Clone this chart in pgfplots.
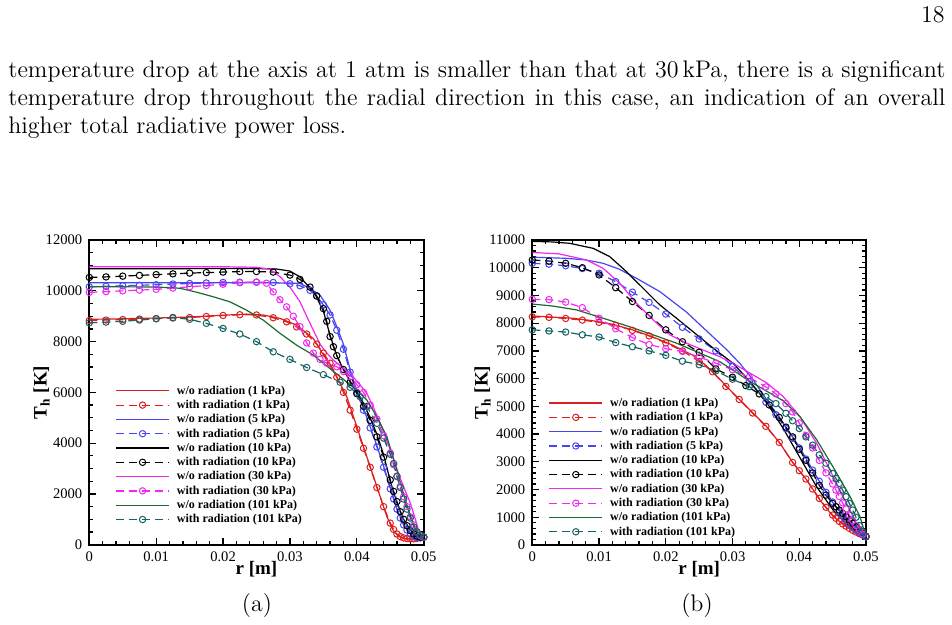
\documentclass[border=0pt]{standalone}
\usepackage{fontspec}
\usepackage{pgfplots}
\pgfplotsset{compat=1.18}

\newfontfamily\plotfont{Liberation Serif}
\newcommand{\tickfont}{\plotfont\fontsize{7.3}{8}\selectfont}
\newcommand{\legfont}{\plotfont\bfseries\fontsize{6}{7}\selectfont}
\newcommand{\labfont}{\plotfont\bfseries\fontsize{9.5}{11}\selectfont}

\definecolor{cRed}{RGB}{220,30,30}
\definecolor{cBlue}{RGB}{70,70,240}
\definecolor{cBlack}{RGB}{0,0,0}
\definecolor{cMag}{RGB}{240,40,240}
\definecolor{cGreen}{RGB}{30,105,45}
\definecolor{cTeal}{RGB}{20,100,100}

\pgfplotsset{
  wo/.style={line width=0.6pt, mark=none, solid},
  wr/.style={line width=0.6pt, dash pattern=on 4pt off 2.5pt, mark=o,
             mark size=1.6pt, mark options={solid, line width=0.5pt}},
  tecplot/.style={
    scale only axis, clip=false,
    scaled ticks=false,
    xmin=0, xmax=0.05, ymin=0,
    xtick={0,0.01,0.02,0.03,0.04,0.05},
    xticklabels={0,0.01,0.02,0.03,0.04,0.05},
    minor x tick num=4,
    tick align=inside,
    major tick length=3.3pt, minor tick length=2pt,
    axis line style={line width=0.9pt},
    every tick/.style={black, line width=0.6pt},
    tick label style={font=\tickfont},
    xlabel={r [m]}, ylabel={T\textsubscript{h} [K]},
    label style={font=\labfont},
    xlabel style={at={(axis description cs:0.5,0)}, anchor=base, yshift=-14.7pt},
    legend cell align=left,
    legend image code/.code={\draw[mark repeat=2, mark phase=2, #1]
      plot coordinates {(0pt,0pt) (13.25pt,0pt) (26.5pt,0pt)};},
    legend style={draw=none, fill=none, anchor=north west, font=\legfont,
      inner sep=0pt, row sep=0pt,
      nodes={inner sep=0.6pt, text height=4.65pt, text depth=1.3pt},
      /tikz/every odd column/.append style={column sep=3pt}},
  },
}

\begin{document}
\begin{tikzpicture}
\path[use as bounding box] (0,0) rectangle (476pt,312.5pt);

% page text
\node[anchor=base east, inner sep=0pt, font=\fontsize{12}{14.5}\selectfont] at (472.5pt,301.1pt) {18};
\node[anchor=base west, inner sep=0pt, font=\fontsize{12}{14.5}\selectfont] at (4pt,273.75pt)
  {\makebox[468.5pt][s]{temperature drop at the axis at 1 atm is smaller than that at 30\,kPa, there is a significant}};
\node[anchor=base west, inner sep=0pt, font=\fontsize{12}{14.5}\selectfont] at (4pt,259.75pt)
  {\makebox[468.5pt][s]{temperature drop throughout the radial direction in this case, an indication of an overall}};
\node[anchor=base west, inner sep=0pt, font=\fontsize{12}{14.5}\selectfont] at (4pt,245.75pt)
  {higher total radiative power loss.};
\node[anchor=base, inner sep=0pt, font=\fontsize{12}{14.5}\selectfont] at (128.5pt,6.5pt) {(a)};
\node[anchor=base, inner sep=0pt, font=\fontsize{12}{14.5}\selectfont] at (348.5pt,6.5pt) {(b)};

% ---------------- (a) ----------------
\begin{axis}[tecplot,
  at={(44.65pt,40.15pt)}, anchor=south west,
  width=167.2pt, height=152.3pt,
  ymax=12000,
  ytick={0,2000,4000,6000,8000,10000,12000},
  yticklabels={0,2000,4000,6000,8000,10000,12000},
  minor y tick num=3,
  ylabel style={at={(axis description cs:-0.1175,0.5)}, anchor=south, inner sep=0pt},
  legend style={at={(0.077,0.53)}},
]
\addplot[wo, cRed] coordinates {
(0,8880) (0.005,8900) (0.01,8930) (0.015,8970) (0.02,9040) (0.0235,9085)
(0.026,9050) (0.0285,8915) (0.031,8650) (0.0335,8120) (0.0355,7270) (0.037,6616)
(0.0385,5828) (0.0395,5040) (0.0405,4253) (0.0415,3465) (0.0425,2678) (0.0435,1890)
(0.0445,1103) (0.0454,580) (0.0462,330) (0.047,250) (0.048,220) (0.049,240) (0.05,300)};
\addlegendentry{w/o radiation (1 kPa)}
\addplot[wr, cRed] coordinates {
(0,8830) (0.0025,8850) (0.005,8870) (0.0075,8890) (0.01,8910) (0.0125,8930)
(0.015,8950) (0.0175,8990) (0.02,9030) (0.0225,9060) (0.025,9050) (0.0275,8940)
(0.0295,8780) (0.031,8580) (0.0325,8300) (0.034,7900) (0.035,7550) (0.036,7150)
(0.037,6600) (0.038,6000) (0.039,5300) (0.040,4550) (0.041,3800) (0.042,3050)
(0.043,2250) (0.044,1500) (0.045,850) (0.0455,600) (0.046,420) (0.0465,320)
(0.047,270) (0.0475,240) (0.048,230) (0.0485,230) (0.049,250) (0.0495,270) (0.05,300)};
\addlegendentry{with radiation (1 kPa)}
\addplot[wo, cBlue] coordinates {
(0,10320) (0.01,10320) (0.02,10320) (0.025,10320) (0.03,10310) (0.0315,10290)
(0.033,10100) (0.0345,9830) (0.036,9240) (0.037,8590) (0.038,7900) (0.039,6900)
(0.040,6050) (0.041,5350) (0.042,4650) (0.043,3900) (0.044,3100) (0.045,2250)
(0.046,1400) (0.047,800) (0.048,450) (0.049,300) (0.0495,263) (0.05,300)};
\addlegendentry{w/o radiation (5 kPa)}
\addplot[wr, cBlue] coordinates {
(0,10160) (0.0025,10180) (0.005,10200) (0.0075,10220) (0.01,10240) (0.0125,10270)
(0.015,10290) (0.0175,10310) (0.02,10330) (0.0225,10340) (0.025,10340) (0.0275,10330)
(0.03,10280) (0.0315,10200) (0.033,10020) (0.034,9800) (0.035,9450) (0.036,9050)
(0.037,8450) (0.038,7700) (0.039,6800) (0.040,6000) (0.041,5300) (0.042,4600)
(0.043,3850) (0.044,3050) (0.045,2200) (0.0455,1800) (0.046,1400) (0.0465,1050)
(0.047,780) (0.0475,580) (0.048,430) (0.0485,330) (0.049,280) (0.0495,280) (0.05,300)};
\addlegendentry{with radiation (5 kPa)}
\addplot[wo, cBlack] coordinates {
(0,10870) (0.01,10870) (0.02,10880) (0.025,10880) (0.028,10860) (0.03,10780)
(0.0315,10550) (0.0327,10200) (0.0337,9900) (0.035,9200) (0.036,8250) (0.037,7450)
(0.038,6900) (0.0395,6220) (0.041,5570) (0.042,5000) (0.043,4350) (0.044,3550)
(0.045,2500) (0.046,1650) (0.047,1000) (0.048,580) (0.049,350) (0.05,300)};
\addlegendentry{w/o radiation (10 kPa)}
\addplot[wr, cBlack] coordinates {
(0,10530) (0.0025,10550) (0.005,10580) (0.0075,10610) (0.01,10640) (0.0125,10670)
(0.015,10700) (0.0175,10720) (0.02,10740) (0.0225,10760) (0.025,10760) (0.0275,10740)
(0.03,10620) (0.0315,10450) (0.033,10150) (0.034,9800) (0.035,9300) (0.0355,8800)
(0.036,8200) (0.0365,7800) (0.037,7450) (0.038,6900) (0.039,6400) (0.040,5950)
(0.041,5450) (0.042,4900) (0.043,4250) (0.044,3450) (0.045,2550) (0.0455,2100)
(0.046,1700) (0.0465,1300) (0.047,1000) (0.0475,750) (0.048,550) (0.0485,420)
(0.049,340) (0.0495,300) (0.05,300)};
\addlegendentry{with radiation (10 kPa)}
\addplot[wo, cMag] coordinates {
(0,10950) (0.01,10950) (0.02,10950) (0.025,10930) (0.027,10850) (0.0285,10560)
(0.03,10150) (0.0315,9570) (0.0325,9000) (0.0335,8450) (0.0345,7900) (0.0355,7550)
(0.0365,7270) (0.0378,7000) (0.039,6750) (0.0403,6350) (0.0415,5960) (0.0425,5400)
(0.0435,4780) (0.0443,4250) (0.045,3730) (0.0457,3200) (0.0464,2680) (0.0472,2150)
(0.048,1640) (0.0487,1050) (0.0492,600) (0.0496,380) (0.05,300)};
\addlegendentry{w/o radiation (30 kPa)}
\addplot[wr, cMag] coordinates {
(0,9940) (0.0025,9970) (0.005,10000) (0.0075,10030) (0.01,10060) (0.0125,10110)
(0.015,10160) (0.0175,10210) (0.02,10260) (0.0225,10320) (0.025,10350) (0.0265,10300)
(0.0275,9960) (0.0285,9650) (0.0295,9370) (0.0305,9000) (0.0315,8590) (0.0325,7950)
(0.0335,7550) (0.0345,7300) (0.0355,7150) (0.037,7010) (0.038,6820) (0.039,6620)
(0.040,6300) (0.041,6000) (0.042,5500) (0.043,4950) (0.044,4300) (0.045,3610)
(0.0455,3150) (0.046,2680) (0.0465,2300) (0.047,1890) (0.0475,1500) (0.048,1100)
(0.0485,780) (0.049,510) (0.0495,350) (0.05,300)};
\addlegendentry{with radiation (30 kPa)}
\addplot[wo, cGreen] coordinates {
(0,10160) (0.005,10160) (0.01,10150) (0.0125,10120) (0.0136,10100) (0.016,9950)
(0.0185,9770) (0.021,9570) (0.0235,9240) (0.026,8850) (0.0285,8330) (0.031,7860)
(0.0335,7470) (0.0345,7250) (0.0375,6620) (0.040,6090) (0.0415,5700) (0.043,5040)
(0.0445,4250) (0.0454,3470) (0.0464,2550) (0.0474,1630) (0.0484,840) (0.0494,380)
(0.05,300)};
\addlegendentry{w/o radiation (101 kPa)}
\addplot[wr, cTeal] coordinates {
(0,8740) (0.0025,8770) (0.005,8800) (0.0075,8850) (0.01,8900) (0.0125,8950)
(0.015,8880) (0.0175,8720) (0.02,8520) (0.0225,8300) (0.025,8000) (0.0275,7600)
(0.03,7300) (0.0325,6980) (0.035,6700) (0.0375,6400) (0.039,6200) (0.0405,5830)
(0.0415,5450) (0.043,4780) (0.044,4200) (0.045,3560) (0.0455,3200) (0.046,2700)
(0.0465,2250) (0.047,1800) (0.0475,1400) (0.048,1050) (0.0485,700) (0.049,500)
(0.0495,380) (0.05,300)};
\addlegendentry{with radiation (101 kPa)}
\end{axis}

% ---------------- (b) ----------------
\begin{axis}[tecplot,
  at={(266.15pt,40pt)}, anchor=south west,
  width=166.85pt, height=152.5pt,
  ymax=11000,
  ytick={0,1000,2000,3000,4000,5000,6000,7000,8000,9000,10000,11000},
  yticklabels={0,1000,2000,3000,4000,5000,6000,7000,8000,9000,10000,11000},
  minor y tick num=4,
  ylabel style={at={(axis description cs:-0.124,0.5)}, anchor=south, inner sep=0pt},
  legend style={at={(0.048,0.49)}},
]
\addplot[wo, cRed] coordinates {
(0,8260) (0.003,8220) (0.006,8180) (0.009,8090) (0.012,7960) (0.015,7760)
(0.018,7510) (0.021,7210) (0.024,6850) (0.026,6480) (0.028,6000) (0.030,5500)
(0.0326,4870) (0.0351,4270) (0.0371,3670) (0.0391,2950) (0.0411,2350) (0.0431,1620)
(0.0451,1020) (0.0471,660) (0.049,400) (0.05,320)};
\addlegendentry{w/o radiation (1 kPa)}
\addplot[wr, cRed] coordinates {
(0,8230) (0.0025,8210) (0.005,8170) (0.0075,8110) (0.01,8030) (0.0125,7920)
(0.015,7740) (0.0175,7540) (0.02,7290) (0.0225,7000) (0.025,6620) (0.027,6250)
(0.029,5720) (0.031,5250) (0.033,4760) (0.035,4280) (0.037,3700) (0.039,2980)
(0.040,2680) (0.041,2380) (0.042,2020) (0.043,1680) (0.044,1360) (0.045,1080)
(0.0455,960) (0.046,850) (0.0465,760) (0.047,680) (0.0475,600) (0.048,530)
(0.0485,470) (0.049,410) (0.0495,360) (0.05,320)};
\addlegendentry{with radiation (1 kPa)}
\addplot[wo, cBlue] coordinates {
(0,10380) (0.005,10340) (0.008,10280) (0.0106,10160) (0.013,9950) (0.0156,9620)
(0.0191,9140) (0.0231,8400) (0.0251,7950) (0.0271,7500) (0.0291,7050) (0.0311,6550)
(0.0331,5950) (0.0351,5250) (0.0376,4400) (0.0401,3500) (0.0426,2460) (0.0451,1500)
(0.0476,780) (0.049,420) (0.05,300)};
\addlegendentry{w/o radiation (5 kPa)}
\addplot[wr, cBlue] coordinates {
(0,10160) (0.0025,10130) (0.005,10070) (0.0075,9970) (0.01,9800) (0.0125,9500)
(0.015,9120) (0.0175,8750) (0.02,8330) (0.0225,7850) (0.025,7430) (0.0275,7000)
(0.03,6450) (0.0325,5900) (0.035,5150) (0.0365,4700) (0.038,4200) (0.039,3850)
(0.040,3500) (0.041,3100) (0.042,2700) (0.043,2300) (0.044,1900) (0.045,1550)
(0.0455,1380) (0.046,1200) (0.0465,1050) (0.047,900) (0.0475,760) (0.048,640)
(0.0485,530) (0.049,440) (0.0495,360) (0.05,300)};
\addlegendentry{with radiation (5 kPa)}
\addplot[wo, cBlack] coordinates {
(0,10950) (0.003,10930) (0.0056,10880) (0.0091,10700) (0.0116,10400) (0.0141,9860)
(0.0166,9260) (0.0191,8660) (0.0216,8180) (0.0241,7690) (0.0271,7100) (0.0301,6550)
(0.0326,5900) (0.0351,5150) (0.0376,4200) (0.0401,3150) (0.0426,2100) (0.0451,1250)
(0.0476,650) (0.049,420) (0.05,300)};
\addlegendentry{w/o radiation (10 kPa)}
\addplot[wr, cBlack] coordinates {
(0,10280) (0.0025,10240) (0.005,10160) (0.0075,10000) (0.01,9740) (0.0125,9280)
(0.015,8780) (0.0175,8280) (0.02,7760) (0.0225,7330) (0.025,6950) (0.0275,6350)
(0.03,6050) (0.032,5750) (0.034,5450) (0.0355,5050) (0.037,4600) (0.038,4250)
(0.039,3900) (0.040,3450) (0.041,3050) (0.042,2600) (0.043,2150) (0.044,1800)
(0.045,1500) (0.0455,1380) (0.046,1260) (0.0465,1140) (0.047,1020) (0.0475,900)
(0.048,780) (0.0485,660) (0.049,540) (0.0495,420) (0.05,300)};
\addlegendentry{with radiation (10 kPa)}
\addplot[wo, cMag] coordinates {
(0,10550) (0.004,10500) (0.0081,10280) (0.0106,9980) (0.0131,9440) (0.0156,8720)
(0.0181,8120) (0.0206,7580) (0.0231,7280) (0.0256,7030) (0.0281,6790) (0.0301,6550)
(0.0326,6200) (0.0351,5850) (0.0376,5350) (0.0401,4630) (0.0426,3670) (0.0451,2460)
(0.0476,1260) (0.049,560) (0.05,300)};
\addlegendentry{w/o radiation (30 kPa)}
\addplot[wr, cMag] coordinates {
(0,8860) (0.0025,8850) (0.005,8760) (0.0075,8560) (0.01,8180) (0.0125,7800)
(0.015,7480) (0.0175,7230) (0.02,7080) (0.0225,6980) (0.025,6780) (0.0275,6560)
(0.03,6320) (0.0325,6050) (0.035,5700) (0.0365,5450) (0.038,5100) (0.039,4800)
(0.040,4400) (0.041,3950) (0.042,3500) (0.043,3050) (0.044,2600) (0.045,2200)
(0.0455,1980) (0.046,1750) (0.0465,1520) (0.047,1300) (0.0475,1080) (0.048,880)
(0.0485,700) (0.049,540) (0.0495,400) (0.05,300)};
\addlegendentry{with radiation (30 kPa)}
\addplot[wo, cGreen] coordinates {
(0,8690) (0.003,8620) (0.0066,8480) (0.0106,8180) (0.0146,7870) (0.0181,7580)
(0.0216,7280) (0.0251,6920) (0.0281,6610) (0.0301,6300) (0.0326,5900) (0.0351,5550)
(0.0376,5200) (0.0401,4630) (0.0426,3800) (0.0451,2800) (0.0476,1750) (0.0491,1020)
(0.05,300)};
\addlegendentry{w/o radiation (101 kPa)}
\addplot[wr, cTeal] coordinates {
(0,7760) (0.0025,7720) (0.005,7680) (0.0075,7580) (0.01,7500) (0.0125,7300)
(0.015,7150) (0.0175,7000) (0.02,6840) (0.0225,6630) (0.025,6500) (0.0275,6280)
(0.03,5980) (0.0325,5710) (0.035,5350) (0.0365,5100) (0.038,4750) (0.039,4480)
(0.040,4200) (0.041,3900) (0.042,3600) (0.043,3250) (0.044,2950) (0.045,2580)
(0.0455,2400) (0.046,2220) (0.0465,1980) (0.047,1740) (0.0475,1500) (0.048,1260)
(0.0485,1000) (0.049,700) (0.0495,480) (0.05,300)};
\addlegendentry{with radiation (101 kPa)}
\end{axis}
\end{tikzpicture}
\end{document}
